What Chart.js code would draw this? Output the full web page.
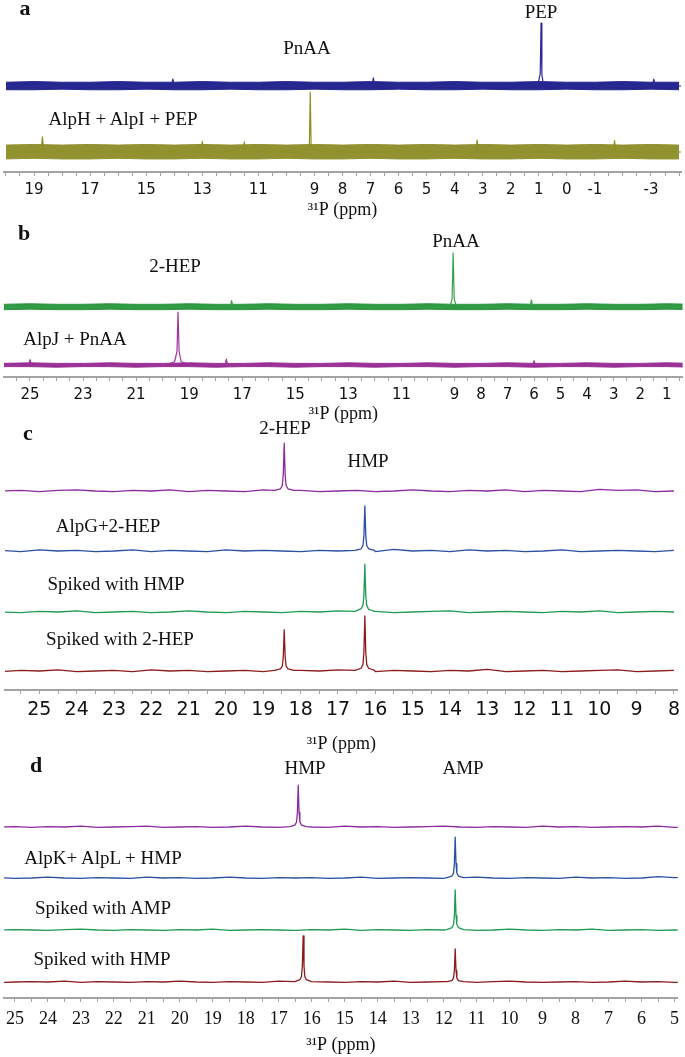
<!DOCTYPE html>
<html>
<head>
<meta charset="utf-8">
<script src="https://cdn.jsdelivr.net/npm/chart.js@4.4.1/dist/chart.umd.min.js"></script>
<style>
  body { margin: 0; background: #fff; }
  #wrap { position: relative; width: 685px; height: 1057px; overflow: hidden; background: #fff; }
  #wrap canvas { position: absolute; left: 0; }
  .lbl { position: absolute; transform: translate(-50%, -50%); white-space: nowrap;
         font-family: 'Liberation Serif', 'Times New Roman', serif; color: #111; line-height: 1; }
</style>
</head>
<body>
<div id="wrap">
  <canvas id="pa" width="685" height="225" style="top:0px"></canvas>
  <canvas id="pb" width="685" height="200" style="top:225px"></canvas>
  <canvas id="pc" width="685" height="335" style="top:420px"></canvas>
  <canvas id="pd" width="685" height="305" style="top:752px"></canvas>
</div>
<script>
// ---- panel a : ppm grid + noise envelopes (relative intensity) ----
const aGrid = [20, 19, 18, 17, 16, 15, 14, 13, 12, 11, 10, 9, 8, 7, 6, 5, 4, 3, 2, 1, 0, -1, -2, -3, -4];
const aBlueHi = [6, 7, 6, 6, 7, 6, 6, 7, 6, 6, 7, 6, 6, 7, 6, 6, 7, 6, 6, 7, 6, 6, 7, 6, 6];
const aBlueLo = [-6, -6, -5, -6, -6, -5, -6, -6, -5, -6, -6, -5, -6, -6, -5, -6, -6, -5, -6, -6, -5, -6, -6, -5, -6];
const aOliveHi = [11, 12, 11, 12, 11, 12, 11, 12, 11, 12, 11, 12, 11, 12, 11, 12, 11, 12, 11, 12, 11, 12, 11, 12, 11];
const aOliveLo = [-11, -10, -11, -11, -10, -11, -11, -10, -11, -11, -10, -11, -11, -10, -11, -11, -10, -11, -11, -10, -11, -11, -10, -11, -11];
// signal lines with the peaks and the few noise spikes that stick out of the band
const aBlueX = [20, 14.1, 14.05, 14.0, 6.95, 6.9, 6.85, 1.5, 1.1, 1.0, 0.95, 0.92, 0.89, 0.85, 0.75, 0.3, -3.05, -3.1, -3.15, -4.2];
const aBlueY = [0, 0, 11, 0, 0, 13, 0, 0, 3, 8, 20, 100, 18, 6, 2, 0, 0, 11, 0, 0];
const aOliveX = [20, 18.75, 18.7, 18.65, 13.05, 13.0, 12.95, 11.55, 11.5, 11.45, 9.6, 9.25, 9.18, 9.15, 9.12, 9.05, 8.7,
  3.25, 3.2, 3.15, -1.65, -1.7, -1.75, -4.2];
const aOliveY = [0, 0, 24, 0, 0, 17, 0, 0, 16, 0, 0, 4, 12, 95, 12, 4, 0, 0, 19, 0, 0, 18, 0, 0];
const aTicks = [19, 17, 15, 13, 11, 9, 8, 7, 6, 5, 4, 3, 2, 1, 0, -1, -3];

// ---- panel b ----
const bGrid = [26, 25, 24, 23, 22, 21, 20, 19, 18, 17, 16, 15, 14, 13, 12, 11, 10, 9, 8, 7, 6, 5, 4, 3, 2, 1, 0];
const bGreenHi = [5, 6, 5, 5, 6, 5, 5, 6, 5, 5, 6, 5, 5, 6, 5, 5, 6, 5, 5, 6, 5, 5, 6, 5, 5, 6, 5];
const bGreenLo = [-5, -4, -5, -5, -4, -5, -5, -4, -5, -5, -4, -5, -5, -4, -5, -5, -4, -5, -5, -4, -5, -5, -4, -5, -5, -4, -5];
const bPurpleHi = [3, 4, 3, 3, 4, 3, 3, 4, 3, 3, 4, 3, 3, 4, 3, 3, 4, 3, 3, 4, 3, 3, 4, 3, 3, 4, 3];
const bPurpleLo = [-3, -3, -4, -3, -3, -4, -3, -3, -4, -3, -3, -4, -3, -3, -4, -3, -3, -4, -3, -3, -4, -3, -3, -4, -3, -3, -4];
const bGreenX = [26, 17.45, 17.4, 17.35, 9.5, 9.15, 9.09, 9.05, 9.01, 8.95, 8.6, 6.15, 6.1, 6.05, 0];
const bGreenY = [0, 0, 12, 0, 0, 4, 15, 100, 15, 4, 0, 0, 13, 0, 0];
const bPurpleX = [26, 25.05, 25.0, 24.95, 19.9, 19.55, 19.46, 19.42, 19.38, 19.3, 18.9, 17.65, 17.6, 17.55, 6.05, 6.0, 5.95, 0];
const bPurpleY = [0, 0, 10, 0, 0, 6, 25, 98, 25, 6, 0, 0, 11, 0, 0, 8, 0, 0];
const bTicks = [25, 23, 21, 19, 17, 15, 13, 11, 9, 8, 7, 6, 5, 4, 3, 2, 1];

// ---- panel c ----
const cGrid = [26, 25.5, 25, 24.5, 24, 23.5, 23, 22.5, 22, 21.5, 21, 20.5, 20, 19.5, 19, 18.5, 18, 17.5, 17,
  16.5, 16, 15.5, 15, 14.5, 14, 13.5, 13, 12.5, 12, 11.5, 11, 10.5, 10, 9.5, 9, 8.5, 8];
const cPurpleBase = [0, 1, -1, 1, 2, 0, -1, 1, 0, 2, -1, 1, 0, -1, 2, 0, 1, -1, 0, 1, -1, 0, 2, 0, -1, 1, 0, 2, -1, 1, 0, -1, 3, 1, 2, -1, 0];
const cBlueBase = [1, -1, 2, 0, 1, -1, 0, 2, -1, 1, 0, -1, 2, 0, 1, 0, -1, 1, 0, 0, -1, 3, 0, 1, -1, 2, 0, 1, -1, 0, 2, -1, 0, 1, 0, -1, 1];
const cGreenBase = [0, -1, 1, 0, 2, -1, 0, 1, -1, 0, 2, 0, -1, 1, 0, -1, 1, 0, 2, 0, 1, -1, 0, 1, 2, -1, 0, 1, 0, -1, 1, 0, 2, -1, 0, 1, 0];
const cRedBase = [-1, 1, 0, 2, -1, 0, 1, -1, 2, 0, 1, -1, 0, 1, -1, 0, 1, 0, 2, 0, -1, 1, 0, -1, 1, 0, 3, -1, 0, 1, -1, 0, 1, 2, -1, 0, 1];
const cHepX = [18.7, 18.54, 18.49, 18.465, 18.44, 18.415, 18.39, 18.34, 18.18];
const cHmpX = [16.54, 16.38, 16.33, 16.305, 16.28, 16.255, 16.23, 16.18, 16.02];
const cPurpleHepY = [1, 4, 10, 30, 87, 30, 10, 4, 1];
const cBlueHmpY = [1, 4, 10, 28, 82, 28, 10, 4, 1];
const cGreenHmpY = [1, 6, 13, 30, 87, 30, 12, 5, 1];
const cRedHepY = [1, 4, 9, 26, 75, 26, 9, 4, 1];
const cRedHmpY = [1, 5, 12, 34, 100, 34, 12, 5, 1];
const cTicks = [25, 24, 23, 22, 21, 20, 19, 18, 17, 16, 15, 14, 13, 12, 11, 10, 9, 8];

// ---- panel d ----
const dGrid = [25.5, 25, 24.5, 24, 23.5, 23, 22.5, 22, 21.5, 21, 20.5, 20, 19.5, 19, 18.5, 18, 17.5, 17, 16.5, 16,
  15.5, 15, 14.5, 14, 13.5, 13, 12.5, 12, 11.5, 11, 10.5, 10, 9.5, 9, 8.5, 8, 7.5, 7, 6.5, 6, 5.5, 5, 4.5];
const dPurpleBase = [0, 1, -1, 1, 0, 2, -1, 0, 1, 2, -1, 0, 1, -1, 0, 2, 0, -1, 1, 0, -1, 2, 0, 1, -1, 0, 1, 2, 0, -1, 1, 0, -1, 2, 0, 1, -1, 0, 1, 0, 2, -1, 0];
const dBlueBase = [1, -1, 0, 2, 0, -1, 1, 0, -1, 2, 0, 1, -1, 0, 2, 0, -1, 1, 0, 1, -1, 0, 2, -1, 0, 1, 0, -1, 1, 2, 0, -1, 1, 0, -1, 2, 0, 1, -1, 0, 3, 1, 0];
const dGreenBase = [0, 1, 0, -1, 1, 2, 0, -1, 1, 0, -1, 1, 0, 2, -1, 0, 1, 0, -1, 1, 0, 2, -1, 1, 0, -1, 1, 0, 1, -1, 0, 2, 0, -1, 1, 0, 2, -1, 0, 1, -1, 0, 1];
const dRedBase = [-1, 0, 1, 0, 2, -1, 1, 0, -1, 1, 0, 2, 0, -1, 1, 0, -1, 2, 0, 1, 0, -1, 1, 0, 2, -1, 0, 1, 0, -1, 1, 2, 0, -1, 0, 1, -1, 0, 2, 0, 1, -1, 0];
const dHmpTopX = [16.66, 16.51, 16.46, 16.435, 16.41, 16.385, 16.36, 16.31, 16.16];
const dHmpX = [16.51, 16.36, 16.31, 16.285, 16.26, 16.235, 16.21, 16.16, 16.01];
const dAmpX = [11.9, 11.75, 11.7, 11.675, 11.65, 11.625, 11.6, 11.55, 11.4];
const dPurpleHmpY = [1, 4, 11, 32, 91, 32, 11, 4, 1];
const dBlueAmpY = [1, 4, 11, 31, 89, 31, 11, 4, 1];
const dGreenAmpY = [1, 5, 12, 31, 87, 31, 12, 5, 1];
const dRedHmpY = [1, 5, 12, 35, 100, 35, 12, 5, 1];
const dRedAmpY = [1, 3, 9, 25, 72, 25, 9, 3, 1];
const dTicks = [25, 24, 23, 22, 21, 20, 19, 18, 17, 16, 15, 14, 13, 12, 11, 10, 9, 8, 7, 6, 5];

const AXIS_TITLE = '³¹P (ppm)';

// stacked traces: y = offset + gain * intensity
function shift(pts, off, gain) {
  return pts.map(p => ({ x: p.x, y: off + gain * p.y }));
}
function zip(xs, ys) {
  return xs.map((x, i) => ({ x, y: ys[i] }));
}
function trace(grid, base, peaks) {
  const pts = [];
  peaks.forEach(([xs, ys]) => xs.forEach((x, i) => pts.push({ x, y: ys[i] })));
  const inPeak = x => peaks.some(([xs]) => x > Math.min(...xs) && x < Math.max(...xs));
  grid.forEach((x, i) => { if (!inPeak(x)) pts.push({ x, y: base[i] }); });
  return pts.sort((p, q) => q.x - p.x);
}
function lineSet(data, color, width) {
  return { data, borderColor: color, borderWidth: width || 1.3, fill: false, pointRadius: 0 };
}
function bandSets(grid, hi, lo, off, gain, color) {
  return [
    { data: shift(zip(grid, lo), off, gain), borderColor: color, borderWidth: 1, fill: false, pointRadius: 0 },
    { data: shift(zip(grid, hi), off, gain), borderColor: color, borderWidth: 1, fill: '-1',
      backgroundColor: color, pointRadius: 0 },
  ];
}

function makePanel(id, p) {
  const cv = document.getElementById(id);
  const areaH = cv.height - p.axisH;
  new Chart(cv, {
    type: 'line',
    data: { datasets: p.datasets },
    options: {
      responsive: false,
      animation: false,
      events: [],
      layout: { autoPadding: false, padding: { left: p.padL, right: p.padR, top: 0, bottom: 0 } },
      plugins: { legend: { display: false }, tooltip: { enabled: false } },
      elements: { line: { tension: 0, borderJoinStyle: 'round' }, point: { radius: 0 } },
      scales: {
        x: {
          type: 'linear', reverse: true, min: p.min, max: p.max,
          afterFit: s => { s.height = p.axisH; },
          border: { display: true, color: '#a3a3a3', width: 2 },
          grid: { drawOnChartArea: false, drawTicks: true, tickLength: 4, color: '#a3a3a3', lineWidth: 1 },
          ticks: {
            stepSize: 0.5, includeBounds: false, autoSkip: false, maxRotation: 0, minRotation: 0,
            padding: p.tickPad, color: '#111', font: p.tickFont,
            callback: v => (p.labels.includes(v) ? String(v) : ''),
          },
          title: {
            display: true, text: AXIS_TITLE, color: '#111',
            font: { family: 'Liberation Serif', size: 18 },
            padding: { top: 0, bottom: p.titlePad },
          },
        },
        y: { display: false, min: 0, max: areaH },
      },
    },
  });
}

// panel a
makePanel('pa', {
  min: -4.07, max: 20.07, axisH: 53, padL: 4, padR: 4, tickPad: 5, titlePad: 4,
  tickFont: { family: 'DejaVu Sans', size: 15 }, labels: aTicks,
  datasets: [
    lineSet(shift(zip(aBlueX, aBlueY), 86, 0.63), '#2b2b96', 1.2),
    ...bandSets(aGrid, aBlueHi, aBlueLo, 86, 0.63, '#26268e'),
    lineSet(shift(zip(aOliveX, aOliveY), 20, 0.63), '#8f8f22', 1.2),
    ...bandSets(aGrid, aOliveHi, aOliveLo, 20, 0.63, '#929232'),
  ],
});

// panel b
makePanel('pb', {
  min: 0.4, max: 25.98, axisH: 48, padL: 4, padR: 2, tickPad: 5, titlePad: 0,
  tickFont: { family: 'DejaVu Sans', size: 15 }, labels: bTicks,
  datasets: [
    lineSet(shift(zip(bGreenX, bGreenY), 70, 0.54), '#3aa04a', 1.2),
    ...bandSets(bGrid, bGreenHi, bGreenLo, 70, 0.54, '#2f9842'),
    lineSet(shift(zip(bPurpleX, bPurpleY), 12, 0.54), '#a0359c', 1.2),
    ...bandSets(bGrid, bPurpleHi, bPurpleLo, 12, 0.54, '#982e94'),
  ],
});

// panel c
makePanel('pc', {
  min: 7.9, max: 25.92, axisH: 65, padL: 5, padR: 3, tickPad: 5, titlePad: 0,
  tickFont: { family: 'DejaVu Sans', size: 19 }, labels: cTicks,
  datasets: [
    lineSet(shift(trace(cGrid, cPurpleBase, [[cHepX, cPurpleHepY]]), 199, 0.55), '#8b2a9e'),
    lineSet(shift(trace(cGrid, cBlueBase, [[cHmpX, cBlueHmpY]]), 139, 0.55), '#2a50a2'),
    lineSet(shift(trace(cGrid, cGreenBase, [[cHmpX, cGreenHmpY]]), 78, 0.55), '#1f9a55'),
    lineSet(shift(trace(cGrid, cRedBase, [[cHepX, cRedHepY], [cHmpX, cRedHmpY]]), 19, 0.55), '#8c1c1c'),
  ],
});

// panel d
makePanel('pd', {
  min: 4.9, max: 25.33, axisH: 59, padL: 2, padR: 1, tickPad: 6, titlePad: 1,
  tickFont: { family: 'Liberation Serif', size: 18 }, labels: dTicks,
  datasets: [
    lineSet(shift(trace(dGrid, dPurpleBase, [[dHmpTopX, dPurpleHmpY]]), 171, 0.46), '#8b2a9e'),
    lineSet(shift(trace(dGrid, dBlueBase, [[dAmpX, dBlueAmpY]]), 120, 0.46), '#2a50a2'),
    lineSet(shift(trace(dGrid, dGreenBase, [[dAmpX, dGreenAmpY]]), 68, 0.46), '#1f9a55'),
    lineSet(shift(trace(dGrid, dRedBase, [[dHmpX, dRedHmpY], [dAmpX, dRedAmpY]]), 16, 0.46), '#8c1c1c'),
  ],
});

// text labels: [text, x, y, size, bold]
const notes = [
  ['a', 25, 8, 22, true], ['PEP', 541, 11, 19], ['PnAA', 307, 47, 19], ['AlpH + AlpI + PEP', 123, 118, 19],
  ['b', 24, 233, 22, true], ['PnAA', 456, 240, 19], ['2-HEP', 175, 265, 19], ['AlpJ + PnAA', 75, 338, 19],
  ['c', 28, 433, 22, true], ['2-HEP', 285, 427, 19], ['HMP', 368, 460, 19], ['AlpG+2-HEP', 108, 525, 19],
  ['Spiked with HMP', 116, 583, 19], ['Spiked with 2-HEP', 120, 638, 19],
  ['d', 36, 765, 22, true], ['HMP', 305, 767, 19], ['AMP', 463, 767, 19], ['AlpK+ AlpL + HMP', 103, 857, 19],
  ['Spiked with AMP', 103, 907, 19], ['Spiked with HMP', 102, 958, 19],
];
const wrap = document.getElementById('wrap');
notes.forEach(([t, x, y, size, bold]) => {
  const el = document.createElement('div');
  el.className = 'lbl';
  el.textContent = t;
  el.style.left = x + 'px';
  el.style.top = y + 'px';
  el.style.fontSize = size + 'px';
  if (bold) el.style.fontWeight = 'bold';
  wrap.appendChild(el);
});
</script>
</body>
</html>
